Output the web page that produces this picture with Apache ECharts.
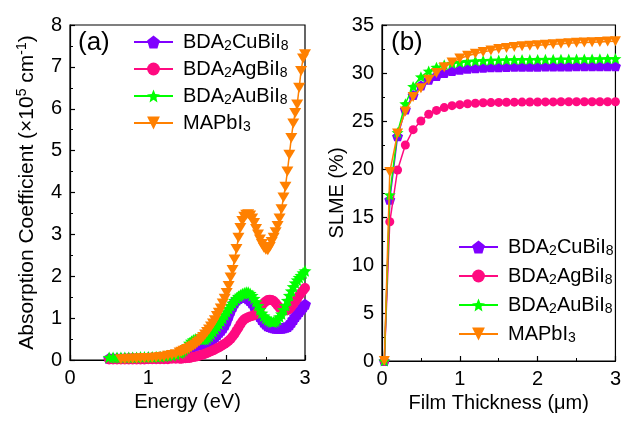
<!DOCTYPE html>
<html><head><meta charset="utf-8">
<script src="https://cdn.jsdelivr.net/npm/echarts@6/dist/echarts.min.js"></script>
<style>html,body{margin:0;padding:0;background:#fff}#c{width:624px;height:423px}</style>
</head><body><div id="c"></div>
<script>
// ---------- Panel (a): absorption coefficient (x10^5 cm^-1) vs energy (eV)
const energy = [0.5,0.55,0.6,0.65,0.7,0.75,0.8,0.85,0.9,0.95,1.0,1.05,1.1,1.15,1.2,1.25,1.3,1.35,
  1.4,1.425,1.45,1.475,1.5,1.525,1.55,1.575,1.6,1.625,
  1.65,1.675,1.7,1.725,1.75,1.775,1.8,1.825,1.85,1.875,
  1.9,1.925,1.95,1.975,2.0,2.025,2.05,2.075,2.1,2.125,
  2.15,2.175,2.2,2.225,2.25,2.275,2.3,2.325,2.35,2.375,
  2.4,2.425,2.45,2.475,2.5,2.525,2.55,2.575,2.6,2.625,
  2.65,2.675,2.7,2.725,2.75,2.775,2.8,2.825,2.85,2.875,
  2.9,2.925,2.95,2.975,3.0];
const absCu = [0.04,0.04,0.04,0.04,0.04,0.05,0.05,0.05,0.05,0.05,0.06,0.06,0.06,0.07,0.07,0.08,0.09,0.1,
  0.12,0.14,0.16,0.19,0.22,0.26,0.3,0.33,0.35,0.36,
  0.37,0.38,0.39,0.4,0.42,0.45,0.48,0.52,0.56,0.61,
  0.66,0.71,0.77,0.84,0.94,1.06,1.18,1.28,1.37,1.43,
  1.47,1.5,1.51,1.51,1.49,1.46,1.42,1.37,1.3,1.21,
  1.12,1.04,0.97,0.91,0.86,0.82,0.8,0.78,0.77,0.76,
  0.76,0.76,0.76,0.77,0.78,0.8,0.84,0.9,0.97,1.04,
  1.1,1.16,1.21,1.27,1.33];
const absAg = [0.01,0.01,0.01,0.01,0.01,0.01,0.01,0.01,0.01,0.01,0.02,0.02,0.02,0.02,0.02,0.02,0.03,0.03,
  0.03,0.03,0.04,0.04,0.05,0.05,0.06,0.07,0.08,0.09,
  0.1,0.12,0.13,0.15,0.17,0.19,0.21,0.23,0.25,0.28,
  0.3,0.33,0.36,0.39,0.42,0.46,0.5,0.56,0.62,0.7,
  0.77,0.85,0.92,0.97,1.0,1.02,1.04,1.05,1.07,1.1,
  1.16,1.23,1.3,1.36,1.4,1.43,1.44,1.43,1.41,1.36,
  1.3,1.25,1.21,1.19,1.18,1.19,1.22,1.27,1.33,1.4,
  1.47,1.54,1.6,1.66,1.72];
const absAu = [0.06,0.06,0.06,0.06,0.06,0.06,0.06,0.06,0.07,0.07,0.07,0.07,0.08,0.08,0.09,0.1,0.11,0.13,
  0.16,0.19,0.23,0.28,0.34,0.4,0.45,0.48,0.5,0.5,
  0.5,0.49,0.49,0.5,0.53,0.57,0.62,0.68,0.74,0.8,
  0.86,0.93,1.0,1.08,1.15,1.23,1.3,1.36,1.42,1.47,
  1.52,1.55,1.58,1.6,1.62,1.62,1.59,1.54,1.47,1.39,
  1.3,1.2,1.12,1.05,1.0,0.96,0.93,0.91,0.91,0.93,
  0.97,1.03,1.1,1.2,1.3,1.42,1.54,1.65,1.75,1.84,
  1.91,1.97,2.02,2.08,2.13];
const absMA = [null,null,null,0.02,0.02,0.03,0.03,0.03,0.04,0.04,0.05,0.05,0.06,0.07,0.08,0.1,0.12,0.14,
  0.18,0.2,0.22,0.24,0.26,0.28,0.31,0.34,0.37,0.41,
  0.45,0.5,0.55,0.61,0.67,0.73,0.8,0.87,0.95,1.05,
  1.13,1.23,1.35,1.46,1.6,1.77,1.97,2.15,2.4,2.65,
  2.92,3.15,3.32,3.42,3.47,3.48,3.45,3.38,3.27,3.13,
  3.0,2.88,2.77,2.68,2.63,2.62,2.7,2.82,2.92,3.05,
  3.2,3.38,3.6,3.88,4.14,4.5,4.9,5.3,5.65,5.9,
  6.1,6.5,6.9,7.2,7.3];

// ---------- Panel (b): SLME (%) vs film thickness (um)
const thickness = [0.03,0.1,0.2,0.3,0.4,0.5,0.6,0.7,0.8,0.9,1.0,1.1,1.2,1.3,1.4,1.5,1.6,1.7,1.8,1.9,2.0,2.1,2.2,2.3,2.4,2.5,2.6,2.7,2.8,2.9,3.0];
const slmeCu = [0,16.8,23.4,26.2,27.7,28.7,29.3,29.7,30.0,30.2,30.35,30.45,30.5,30.55,30.6,30.6,30.62,30.64,30.65,30.65,30.66,30.67,30.68,30.68,30.69,30.7,30.7,30.7,30.7,30.7,30.7];
const slmeAg = [0,14.5,19.9,22.5,24.1,25.0,25.7,26.1,26.4,26.6,26.7,26.8,26.85,26.9,26.92,26.94,26.95,26.96,26.97,26.98,26.98,26.99,26.99,27.0,27.0,27.0,27.0,27.0,27.0,27.0,27.0];
const slmeAu = [0,17.3,23.8,26.8,28.6,29.6,30.2,30.6,30.85,31.0,31.1,31.2,31.25,31.3,31.32,31.35,31.37,31.38,31.4,31.4,31.41,31.42,31.43,31.44,31.45,31.45,31.46,31.47,31.48,31.49,31.5];
const slmeMA = [0,19.7,23.7,26.0,27.5,28.4,29.3,30.0,30.6,31.1,31.5,31.8,32.0,32.2,32.35,32.5,32.6,32.7,32.78,32.85,32.9,32.95,33.0,33.05,33.1,33.14,33.18,33.21,33.24,33.27,33.3];

const seriesNames = ['BDA2CuBiI8','BDA2AgBiI8','BDA2AuBiI8','MAPbI3'];
const legendRich = {
  'BDA2CuBiI8': '{n|BDA}{s|2}{n|CuBiI}{s|8}',
  'BDA2AgBiI8': '{n|BDA}{s|2}{n|AgBiI}{s|8}',
  'BDA2AuBiI8': '{n|BDA}{s|2}{n|AuBiI}{s|8}',
  'MAPbI3': '{n|MAPbI}{s|3}'
};

const FONT = '"Liberation Sans", Arial, Helvetica, sans-serif';
const colors = ['#8000FF','#FF0A80','#00FF00','#FF8000'];
const PENT = 'path://M0,-10 L9.51,-3.09 L5.88,8.09 L-5.88,8.09 L-9.51,-3.09 Z';
const STAR = 'path://M0,-10 L2.65,-3.64 L9.51,-3.09 L4.28,1.39 L5.88,8.09 L0,4.5 L-5.88,8.09 L-4.28,1.39 L-9.51,-3.09 L-2.65,-3.64 Z';
const DTRI = 'path://M-10,-8.66 L10,-8.66 L0,8.66 Z';
const symbols = [PENT,'circle',STAR,DTRI];
const symSizesA = [[12,11],10,[13,12],[12,10]];
const symSizesB = [[11,10],9,[12,11],[11,10]];

function pairs(xs, ys){ return xs.map((x,i)=> [x, ys[i]]); }

const absSets = [absCu, absAg, absAu, absMA];
const slmeSets = [slmeCu, slmeAg, slmeAu, slmeMA];

function axisCommon(){
  return {
    axisLine:{show:true,onZero:false,lineStyle:{color:'#000',width:1.2}},
    axisTick:{show:true,inside:true,length:5,lineStyle:{color:'#000',width:1.2}},
    minorTick:{show:true,splitNumber:2,length:3,lineStyle:{color:'#000',width:1}},
    splitLine:{show:false},
    minorSplitLine:{show:false},
    axisLabel:{color:'#000',fontSize:20,fontFamily:FONT},
    nameTextStyle:{color:'#000',fontSize:20,fontFamily:FONT}
  };
}

const series = [];
seriesNames.forEach((nm,i)=>{
  series.push({
    name:nm, type:'line', xAxisIndex:0, yAxisIndex:0,
    data: pairs(energy, absSets[i]),
    symbol: symbols[i], symbolSize: symSizesA[i],
    itemStyle:{color:colors[i]},
    lineStyle:{color:colors[i],width:1.5},
    showSymbol:true, showAllSymbol:true, connectNulls:false, animation:false, z:2+i
  });
  series.push({
    name:nm, type:'line', xAxisIndex:1, yAxisIndex:1,
    data: pairs(thickness, slmeSets[i]),
    symbol: symbols[i], symbolSize: symSizesB[i],
    itemStyle:{color:colors[i]},
    lineStyle:{color:colors[i],width:1.5},
    showSymbol:true, showAllSymbol:true, animation:false, z:2+i
  });
});

const legendCommon = {
  orient:'vertical', itemWidth:39, itemHeight:16, itemGap:6, padding:0,
  data: seriesNames,
  formatter: n => legendRich[n],
  textStyle:{
    color:'#000', fontFamily:FONT, padding:[0,0,0,5],
    rich:{
      n:{fontSize:20,lineHeight:22,fontFamily:FONT,color:'#000'},
      s:{fontSize:14,lineHeight:13,verticalAlign:'bottom',fontFamily:FONT,color:'#000'}
    }
  },
  selectedMode:false
};

const chart = echarts.init(document.getElementById('c'), null, {renderer:'canvas'});
chart.setOption({
  animation:false,
  backgroundColor:'#fff',
  grid:[
    {left:70, top:25, width:235, height:335, show:true, borderColor:'#000', borderWidth:1.2, backgroundColor:'transparent'},
    {left:382, top:25, width:235, height:336, show:true, borderColor:'#000', borderWidth:1.2, backgroundColor:'transparent'}
  ],
  xAxis:[
    Object.assign(axisCommon(),{gridIndex:0,type:'value',min:0,max:3,interval:1,name:'Energy (eV)',nameLocation:'middle',nameGap:30}),
    Object.assign(axisCommon(),{gridIndex:1,type:'value',min:0,max:3,interval:1,name:'Film Thickness (\u03BCm)',nameLocation:'middle',nameGap:30})
  ],
  yAxis:[
    Object.assign(axisCommon(),{gridIndex:0,type:'value',min:0,max:8,interval:1,
      name:'{n|Absorption Coefficient (\u00D710}{p|5}{n| cm}{p|-1}{n|)}',nameLocation:'middle',nameGap:30,
      nameTextStyle:{color:'#000',fontSize:21,fontFamily:FONT,rich:{
        n:{fontSize:21,lineHeight:25,fontFamily:FONT,color:'#000'},
        p:{fontSize:14,lineHeight:14,verticalAlign:'top',fontFamily:FONT,color:'#000'}}}}),
    Object.assign(axisCommon(),{gridIndex:1,type:'value',min:0,max:35,interval:5,name:'SLME (%)',nameLocation:'middle',nameGap:25})
  ],
  legend:[
    Object.assign({}, legendCommon, {left:133, top:32}),
    Object.assign({}, legendCommon, {left:458, top:237, itemGap:8})
  ],
  graphic:[
    {type:'text', left:78, top:30, style:{text:'(a)', fontSize:26, fontFamily:FONT, fill:'#000'}},
    {type:'text', left:391, top:30, style:{text:'(b)', fontSize:26, fontFamily:FONT, fill:'#000'}}
  ],
  series: series
});
</script></body></html>
